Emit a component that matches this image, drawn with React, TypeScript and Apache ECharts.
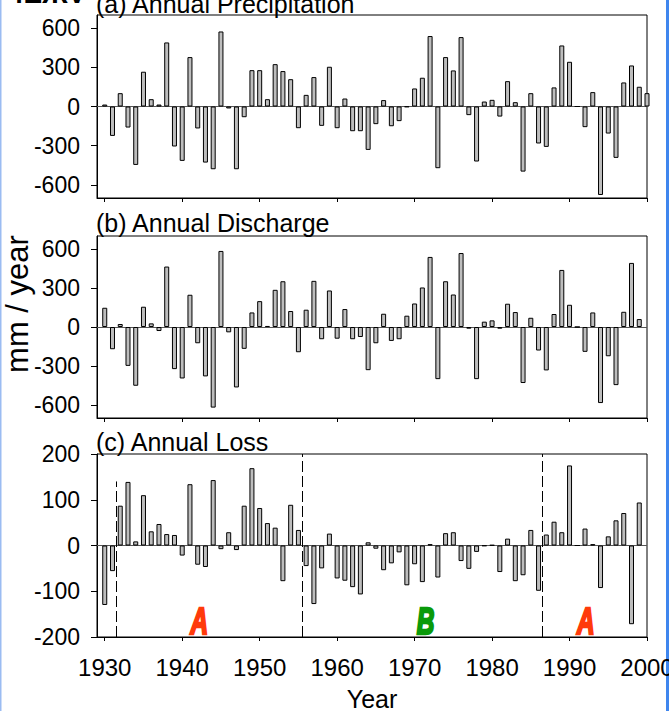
import React, { useEffect, useRef } from "react";
import * as echarts from "echarts";

// Years 1930–2000
const years: number[] = [];
for (let y = 1930; y <= 2000; y++) years.push(y);

// (a) Annual Precipitation anomalies, 1930–2000 (mm/year)
const precipitation = [
  15, -225, 102, -161, -447, 266, 56, 15, 490, -306,
  -416, 378, -168, -429, -480, 574, -15, -480, -82, 278,
  278, 56, 324, 271, 209, -166, 89, 225, -148, 304,
  -166, 61, -189, -189, -332, -135, 49, -151, -112, -4,
  138, 220, 539, -472, 378, 276, 531, -66, -421, 38,
  51, -77, 194, 33, -498, 102, -283, -309, 146, 467,
  342, 0, -158, 110, -677, -207, -393, 184, 314, 151,
  102,
];

// (b) Annual Discharge anomalies, 1930–1999
const discharge = [
  148, -171, 23, -299, -452, 156, 28, -31, 465, -324,
  -396, 248, -125, -380, -620, 585, -41, -465, -168, 112,
  199, 8, 286, 352, 123, -194, 133, 355, -94, 281,
  -90, 138, -94, -77, -332, -125, 102, -107, -94, 87,
  181, 304, 539, -401, 352, 250, 569, -13, -401, 41,
  51, -13, 179, 115, -431, 71, -181, -334, 100, 439,
  171, 0, -191, 112, -585, -225, -447, 117, 493, 61,
];

// (c) Annual Loss anomalies, 1930–1999
const loss = [
  -130, -56, 87, 139, 9, 110, 31, 47, 25, 23,
  -22, 134, -42, -47, 143, -8, 29, -10, 87, 169,
  82, 49, 39, -78, 89, 34, -45, -128, -50, 26,
  -72, -77, -91, -107, 7, -7, -54, -39, -15, -87,
  -41, -80, 3, -70, 27, 29, -34, -51, -14, -1,
  1, -58, 15, -78, -65, 34, -99, 24, 52, 29,
  175, 0, 37, 3, -93, 20, 55, 71, -172, 94,
];

const xTicks = [1930, 1940, 1950, 1960, 1970, 1980, 1990, 2000];
const pdTicks = [-600, -300, 0, 300, 600];
const panelTitles = ["(a) Annual Precipitation", "(b) Annual Discharge", "(c) Annual Loss"];

// Change points in the loss series and phase labels
const breakYears = [1931.5, 1955.5, 1986.5];
const breakTops = [140, 200, 200];
const phaseNames = ["A", "B", "A"];
const phaseYears = [1942.2, 1971.4, 1992.1];
const phaseLevel = -167;
const phaseColors = ["#FF3A0A", "#0A9A0A", "#FF3A0A"];

const FONT = "'Liberation Sans', Arial, sans-serif";

export default function App() {
  const ref = useRef<HTMLDivElement>(null);

  useEffect(() => {
    if (!ref.current) return;
    const chart = echarts.init(ref.current, undefined, { renderer: "svg" });

    const gridTops = [15, 236, 454];
    const gridHeights = [183, 182, 183];
    const seriesVals = [precipitation, discharge, loss];

    const grids = gridTops.map((t, i) => ({
      left: 97,
      width: 550,
      top: t,
      height: gridHeights[i],
      show: true,
      containLabel: false,
      outerBoundsMode: "none",
      borderColor: "#000",
      borderWidth: 1,
      backgroundColor: "transparent",
    }));

    const xAxes = [0, 1, 2].map((i) => ({
      type: "value",
      gridIndex: i,
      min: 1929,
      max: 2000,
      axisLine: { show: true, onZero: false, lineStyle: { color: "#000", width: 1 } },
      axisTick: { show: true, inside: false, length: 4, customValues: xTicks, lineStyle: { color: "#000" } },
      axisLabel: {
        show: i === 2,
        customValues: xTicks,
        formatter: (v: number) => String(v),
        fontSize: 24,
        color: "#000",
        fontFamily: FONT,
        margin: 18,
      },
      splitLine: { show: false },
      name: i === 2 ? "Year" : "",
      nameLocation: "middle",
      nameGap: 49,
      nameTextStyle: { fontSize: 25, color: "#000", fontFamily: FONT },
    }));

    const yAxes = [0, 1, 2].map((i) => {
      const base: any = {
        type: "value",
        gridIndex: i,
        axisLine: { show: true, onZero: false, lineStyle: { color: "#000", width: 1 } },
        axisTick: { show: true, inside: false, length: 6, lineStyle: { color: "#000" } },
        axisLabel: { fontSize: 23, color: "#000", fontFamily: FONT, margin: 17 },
        splitLine: { show: false },
      };
      if (i < 2) {
        base.min = -700;
        base.max = 700;
        base.axisTick.customValues = pdTicks;
        base.axisLabel.customValues = pdTicks;
      } else {
        base.min = -200;
        base.max = 200;
        base.interval = 100;
      }
      return base;
    });

    const series: any[] = [0, 1, 2].map((i) => ({
      type: "bar",
      xAxisIndex: i,
      yAxisIndex: i,
      barWidth: 5,
      clip: true,
      data: seriesVals[i].map((v, k) => [years[k], v]),
      itemStyle: { color: "#BDBDBD", borderColor: "#000", borderWidth: 1 },
      markLine: {
        silent: true,
        z: 1,
        symbol: "none",
        label: { show: false },
        lineStyle: { color: "#555", width: 1, type: "solid" },
        data: [{ yAxis: 0 }],
      },
    }));

    series.push({
      type: "line",
      xAxisIndex: 2,
      yAxisIndex: 2,
      data: [],
      markLine: {
        silent: true,
        symbol: "none",
        label: { show: false },
        lineStyle: { color: "#000", width: 1, type: [11, 4] },
        data: breakYears.map((yr, k) => [
          { coord: [yr, -200] },
          { coord: [yr, breakTops[k]] },
        ]),
      },
    });

    const titleYs = [4, 223, 442];

    const graphic: any[] = [
      ...panelTitles.map((t, i) => ({
        type: "text",
        left: 96,
        top: titleYs[i] - 13,
        style: { text: t, fontSize: 25, fill: "#000", fontFamily: FONT },
      })),
      {
        type: "text",
        x: 17,
        y: 304,
        rotation: Math.PI / 2,
        style: {
          text: "mm / year",
          fontSize: 31,
          fill: "#000",
          fontFamily: FONT,
          align: "center",
          verticalAlign: "middle",
        },
      },
      {
        type: "text",
        x: 8,
        y: -21,
        style: { text: "4EЖV", fontSize: 28, fontWeight: "bold", fill: "#000", fontFamily: FONT },
      },
      { type: "rect", shape: { x: 0, y: 0, width: 1.5, height: 711 }, style: { fill: "#9BBCF2" } },
      { type: "rect", shape: { x: 666, y: 0, width: 3, height: 711 }, style: { fill: "#3F86EE" } },
    ];

    chart.setOption({
      animation: false,
      backgroundColor: "#fff",
      grid: grids,
      xAxis: xAxes,
      yAxis: yAxes,
      series,
      graphic,
    });

    // Phase labels placed through the loss panel's axes
    const phaseGraphics = phaseNames.map((n, k) => {
      const p = chart.convertToPixel({ gridIndex: 2 }, [phaseYears[k], phaseLevel]) as number[];
      return {
        type: "text",
        x: p[0],
        y: p[1],
        scaleX: 0.66,
        style: {
          text: n,
          fontSize: 37,
          fontWeight: 900,
          fontStyle: "italic",
          fill: phaseColors[k],
          stroke: phaseColors[k],
          lineWidth: 2.5,
          fontFamily: FONT,
          align: "center",
          verticalAlign: "middle",
        },
      };
    });
    chart.setOption({ graphic: [...graphic, ...phaseGraphics] });

    return () => chart.dispose();
  }, []);

  return (
    <div
      ref={ref}
      style={{ position: "absolute", left: 0, top: 0, width: 669, height: 711 }}
    />
  );
}
